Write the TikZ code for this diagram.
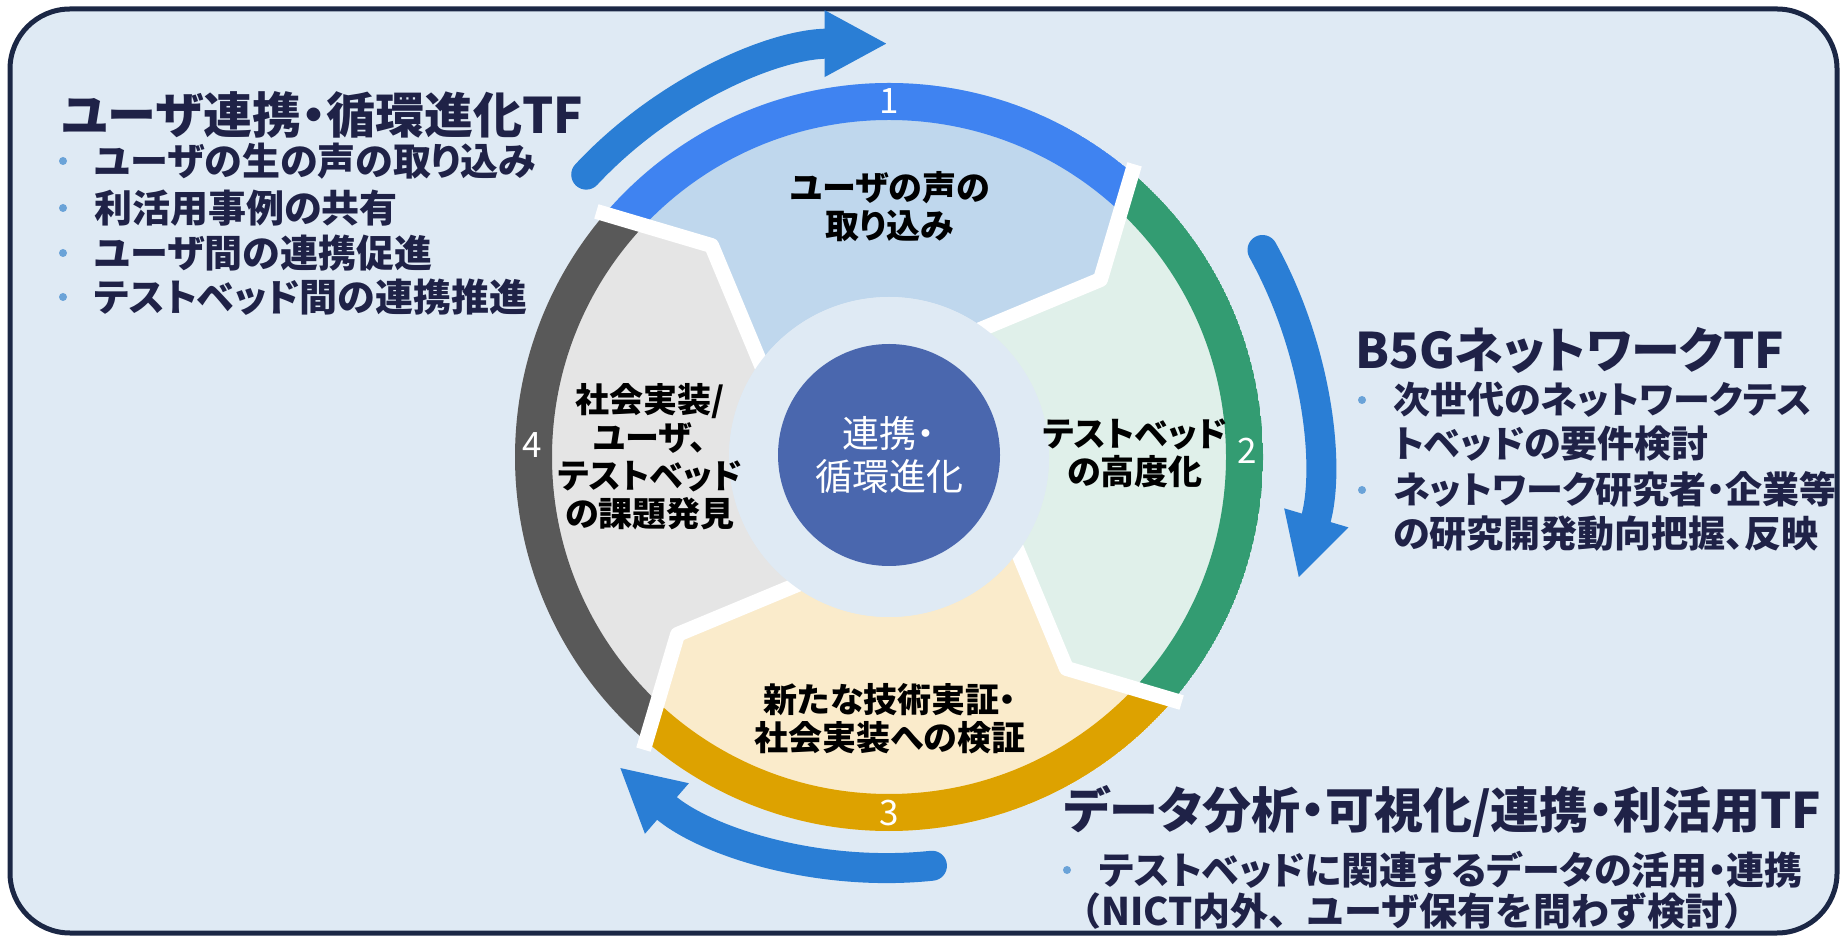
\documentclass[tikz,border=0pt]{standalone}
\usepackage{xcolor}
\usepackage{fontspec}
\usepackage{tikz}
\usetikzlibrary{arrows.meta}

\newfontfamily\jp[RawFeature=+palt]{Noto Sans CJK JP}
\newfontfamily\jpm{Noto Sans CJK JP}

\definecolor{bakgrunn}{HTML}{DFEAF4}
\definecolor{ramme}{HTML}{1B2745}
\definecolor{marine}{HTML}{1F2247}
\definecolor{prikkblaa}{HTML}{6AA3D8}
\definecolor{pilblaa}{HTML}{2A7ED5}
\definecolor{midtblaa}{HTML}{4A67AE}
\definecolor{blaa}{HTML}{3F83F1}
\definecolor{lysblaa}{HTML}{BFD7ED}
\definecolor{groenn}{HTML}{339C72}
\definecolor{lysgroenn}{HTML}{E0F0EA}
\definecolor{gull}{HTML}{DDA200}
\definecolor{lysgull}{HTML}{FAEBCB}
\definecolor{graa}{HTML}{595959}
\definecolor{lysgraa}{HTML}{E5E5E5}

\begin{document}
\begin{tikzpicture}[x=1pt, y=1pt,
	overskrift/.style={font=\jp\bfseries\fontsize{49}{52}\selectfont, text=marine, anchor=west, inner sep=0},
	punkt/.style={font=\jp\bfseries\fontsize{38}{44}\selectfont, text=marine, anchor=west, align=left, inner sep=0},
	prikk/.style={circle, fill=prikkblaa, minimum size=8pt, inner sep=0},
	felt/.style={font=\jp\bfseries\fontsize{34}{38}\selectfont, align=center, inner sep=0},
	tall/.style={font=\jp\fontsize{35}{35}\selectfont, text=white, inner sep=0},
	skille/.style={white, line width=15pt, line join=round},
	pil/.style={pilblaa, line width=30pt, line cap=round, -{Triangle[length=63pt,width=62pt]}}]
	\useasboundingbox (0,0) rectangle (1843,937);
	\draw[ramme, line width=5pt, fill=bakgrunn, rounded corners=60pt] (10,4) rectangle (1837,928);

	%Sirkelen her
	\begin{scope}[shift={(889,480)}]
		\begin{scope}
			\clip (140:374) arc[start angle=140, end angle=50, radius=374pt] -- (40:276) -- (56:160)
				arc[start angle=56, end angle=146, radius=160pt] -- (130:276) -- cycle;
			\fill[lysblaa] (0,0) circle[radius=380pt];
			\fill[blaa, even odd rule] (0,0) circle[radius=374pt] (0,0) circle[radius=337pt];
		\end{scope}
		\begin{scope}
			\clip (50:374) arc[start angle=50, end angle=-40, radius=374pt] -- (-50:276) -- (-34:160)
				arc[start angle=-34, end angle=56, radius=160pt] -- (40:276) -- cycle;
			\fill[lysgroenn] (0,0) circle[radius=380pt];
			\fill[groenn, even odd rule] (0,0) circle[radius=374pt] (0,0) circle[radius=337pt];
		\end{scope}
		\begin{scope}
			\clip (-40:374) arc[start angle=-40, end angle=-130, radius=374pt] -- (-140:276) -- (-124:160)
				arc[start angle=-124, end angle=-34, radius=160pt] -- (-50:276) -- cycle;
			\fill[lysgull] (0,0) circle[radius=380pt];
			\fill[gull, even odd rule] (0,0) circle[radius=374pt] (0,0) circle[radius=337pt];
		\end{scope}
		\begin{scope}
			\clip (-130:374) arc[start angle=-130, end angle=-220, radius=374pt] -- (130:276) -- (146:160)
				arc[start angle=-214, end angle=-124, radius=160pt] -- (-140:276) -- cycle;
			\fill[lysgraa] (0,0) circle[radius=380pt];
			\fill[graa, even odd rule] (0,0) circle[radius=374pt] (0,0) circle[radius=337pt];
		\end{scope}

		%Skillelinjer
		\draw[skille] (140:382) -- (130:276) -- (146:150);
		\draw[skille] (50:382) -- (40:276) -- (56:150);
		\draw[skille] (-40:382) -- (-50:276) -- (-34:150);
		\draw[skille] (-130:382) -- (-140:276) -- (-124:150);
		\fill[bakgrunn] (0,0) circle[radius=160pt];

		%Nodene går her
		\node[circle, fill=midtblaa, minimum size=222pt, text=white, align=center,
			font=\jp\fontsize{37}{43}\selectfont] (midt) at (0,2) {連携・\\循環進化};
		\node[tall] (1) at (90:356) {1};
		\node[tall] (2) at (1:358) {2};
		\node[tall] (3) at (-90:356) {3};
		\node[tall] (4) at (178:357) {4};
		\node[felt] (f1) at (1,250) {ユーザの声の\\取り込み};
		\node[felt] (f2) at (246,4) {テストベッド\\の高度化};
		\node[felt] (f3) at (1,-262) {新たな技術実証・\\社会実装への検証};
		\node[felt] (f4) at (-239,0) {社会実装/\\ユーザ、\\テストベッド\\の課題発見};

		%Pilene her
		\draw[pil] (137:414) arc[start angle=137, end angle=90, radius=412pt];
		\draw[pil] (29:427) arc[start angle=29, end angle=-16.5, radius=427pt];
		\draw[pil] (-84:411) arc[start angle=-84, end angle=-131, radius=411pt];
	\end{scope}

	%Tekstene her
	\node[overskrift] (tf1) at (61,822) {ユーザ連携・循環進化TF};
	\node[prikk] (d1) at (63,776) {};
	\node[punkt] (p1) at (94,776) {ユーザの生の声の取り込み};
	\node[prikk] (d2) at (63,729) {};
	\node[punkt] (p2) at (94,729) {利活用事例の共有};
	\node[prikk] (d3) at (63,684) {};
	\node[punkt] (p3) at (94,684) {ユーザ間の連携促進};
	\node[prikk] (d4) at (63,640) {};
	\node[punkt] (p4) at (94,640) {テストベッド間の連携推進};

	\node[overskrift] (tf2) at (1355,587) {B5GネットワークTF};
	\node[prikk] (d5) at (1362,537) {};
	\node[punkt, font=\jp\bfseries\fontsize{37}{44}\selectfont] (p5) at (1393,515) {次世代のネットワークテス\\トベッドの要件検討};
	\node[prikk] (d6) at (1362,447) {};
	\node[punkt, font=\jp\bfseries\fontsize{37}{44}\selectfont] (p6) at (1393,426) {ネットワーク研究者・企業等\\の研究開発動向把握、反映};

	\node[overskrift] (tf3) at (1064,126) {データ分析・可視化/連携・利活用TF};
	\node[prikk] (d7) at (1067,67) {};
	\node[punkt] (p7) at (1099,67) {テストベッドに関連するデータの活用・連携};
	\node[punkt, font=\jpm\bfseries\fontsize{38}{44}\selectfont] (p8) at (1063,26) {（NICT内外、ユーザ保有を問わず検討）};
\end{tikzpicture}
\end{document}
